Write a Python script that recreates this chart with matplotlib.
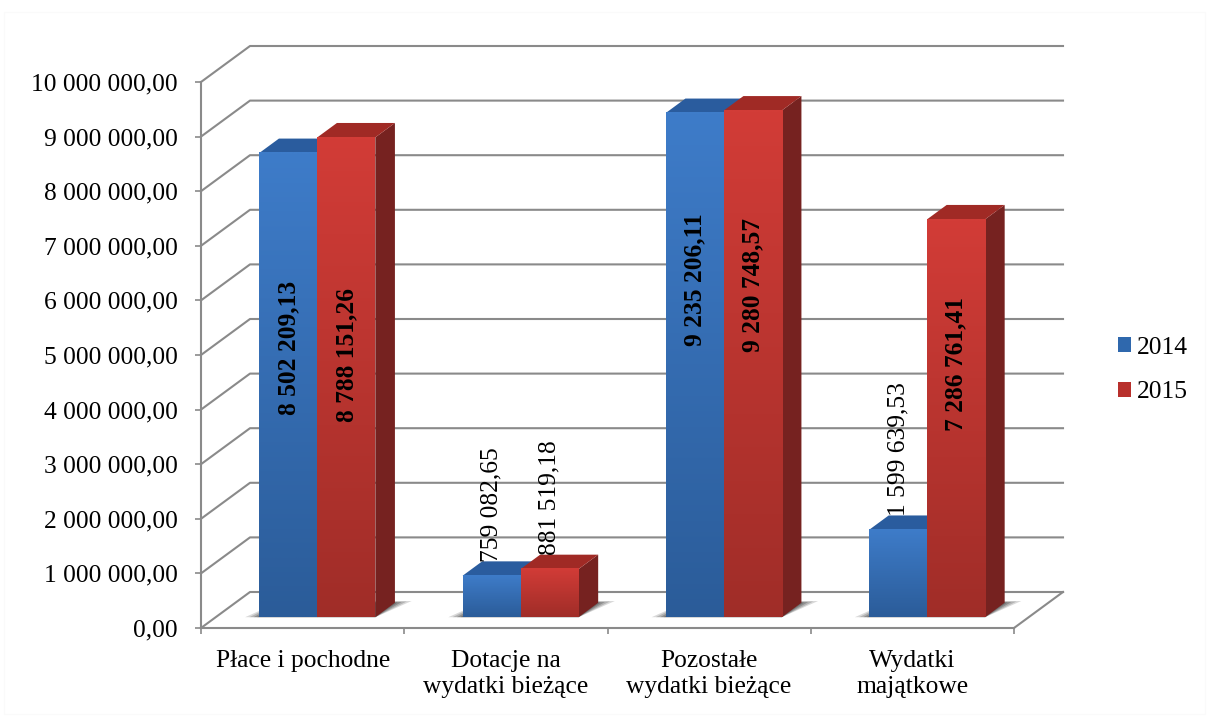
import numpy as np
import matplotlib
matplotlib.use("Agg")
import matplotlib.pyplot as plt
from matplotlib.patches import Polygon, Patch, Rectangle

plt.rcParams["font.family"] = ["Liberation Serif", "DejaVu Serif"]

# Data
categories = ["Płace i pochodne", "Dotacje na\nwydatki bieżące",
              "Pozostałe\nwydatki bieżące", "Wydatki\nmajątkowe"]
years = ["2014", "2015"]
values_2014 = [8502209.13, 759082.65, 9235206.11, 1599639.53]
values_2015 = [8788151.26, 881519.18, 9280748.57, 7286761.41]
labels_2014 = ["8 502 209,13", "759 082,65", "9 235 206,11", "1 599 639,53"]
labels_2015 = ["8 788 151,26", "881 519,18", "9 280 748,57", "7 286 761,41"]
y_ticks = list(range(0, 11000000, 1000000))
y_labels = ["0,00", "1 000 000,00", "2 000 000,00", "3 000 000,00", "4 000 000,00",
            "5 000 000,00", "6 000 000,00", "7 000 000,00", "8 000 000,00",
            "9 000 000,00", "10 000 000,00"]

# where the labels sit inside the tall bars (share of bar height), None = above the bar
inside_2014 = [0.58, None, 0.67, None]
inside_2015 = [0.546, None, 0.655, 0.636]

W, H = 1209, 718
GRID = "#8a8a8a"
FS = 18.4

# fake 3D: the depth of the chart floor in data units
DX = 49 / 203.25
DY = 36 / 54.6 * 1e6
BAR_W = 58 / 203.25
BAR_FRONT = 0.30
BAR_BACK = 0.70

fig = plt.figure(figsize=(W / 100, H / 100), dpi=100)
fig.add_artist(Rectangle((4 / W, 4 / H), 1201 / W, 702 / H, transform=fig.transFigure,
                         fill=False, ec="#fafafa", lw=1))
ax = fig.add_axes([201 / W, 1 - 628 / H, 813 / W, 546 / H])
ax.patch.set_visible(False)


def shift(x, y, d):
    return x + d * DX, y + d * DY


def gradient(x0, x1, y0, y1, top, bottom, z):
    c0 = np.array(matplotlib.colors.to_rgb(top))
    c1 = np.array(matplotlib.colors.to_rgb(bottom))
    t = np.linspace(0, 1, 128)[:, None, None]
    img = c0 * (1 - t) + c1 * t
    ax.imshow(img, extent=(x0, x1, y0, y1), aspect="auto", zorder=z, interpolation="bilinear")


# walls
for v in y_ticks:
    x1, y1 = shift(0, v, 1)
    ax.plot([0, x1, shift(4, v, 1)[0]], [v, y1, y1], color=GRID, lw=1.5, zorder=1, clip_on=False)
x1, y1 = shift(4, 0, 1)
ax.plot([4, x1], [0, y1], color=GRID, lw=1.5, zorder=1, clip_on=False)

# soft shadows on the floor
for i in range(len(categories)):
    left, right = i + 0.5 - BAR_W, i + 0.5 + BAR_W
    for grow, a in zip([1.0, 0.7, 0.4, 0.15], [0.18, 0.22, 0.28, 0.32]):
        g = grow * 0.07
        pts = [shift(left - g, 0, BAR_FRONT), shift(right, 0, BAR_FRONT),
               shift(right + g, 0, BAR_BACK + 0.05 * grow), shift(left, 0, BAR_BACK + 0.05 * grow)]
        ax.add_patch(Polygon(pts, closed=True, fc="#303030", ec="none", alpha=a, zorder=2, clip_on=False))

# bars, blue first so the red front covers its side
series = [
    (values_2014, -1, "#3e7cc9", "#2b5c99", "#2a5c9e", "#1f4677", 3),
    (values_2015, 0, "#d23c37", "#a02d28", "#a02a25", "#762220", 5),
]
for vals, off, top, bottom, top_face, side_dark, z in series:
    for i, v in enumerate(vals):
        x0 = i + 0.5 + off * BAR_W
        x1 = x0 + BAR_W
        fx0, fy0 = shift(x0, 0, BAR_FRONT)
        fx1, fy1 = shift(x1, v, BAR_FRONT)
        bx0, by0 = shift(x0, 0, BAR_BACK)
        bx1, by1 = shift(x1, v, BAR_BACK)
        ax.add_patch(Polygon([(fx1, fy0), (bx1, by0), (bx1, by1), (fx1, fy1)], closed=True,
                             fc=side_dark, ec="none", zorder=z, clip_on=False))
        ax.add_patch(Polygon([(fx0, fy1), (fx1, fy1), (bx1, by1), (bx0, by1)], closed=True,
                             fc=top_face, ec="none", zorder=z, clip_on=False))
        gradient(fx0, fx1, fy0, fy1, top, bottom, z + 0.5)

# value labels
for vals, labels, inside, off in [(values_2014, labels_2014, inside_2014, -0.5),
                                  (values_2015, labels_2015, inside_2015, 0.5)]:
    for i, v in enumerate(vals):
        x, y = shift(i + 0.5 + off * BAR_W, v, BAR_FRONT)
        if inside[i] is None:
            ax.text(x, y + 14 / 54.6 * 1e6, labels[i], rotation=90, ha="center", va="bottom",
                    fontsize=FS, color="black", zorder=10, clip_on=False)
        else:
            y = shift(0, v * inside[i], BAR_FRONT)[1]
            ax.text(x, y, labels[i], rotation=90, ha="center", va="center", fontsize=FS,
                    fontweight="bold", color="black", zorder=10, clip_on=False)

ax.set_xlim(0, 4)
ax.set_ylim(0, 10000000)

# axes
for s in ["top", "right"]:
    ax.spines[s].set_visible(False)
for s in ["left", "bottom"]:
    ax.spines[s].set_color(GRID)
    ax.spines[s].set_linewidth(1.5)
    ax.spines[s].set_zorder(1.5)
ax.set_yticks(y_ticks)
ax.set_yticklabels(y_labels, fontsize=FS)
plt.setp(ax.get_yticklabels(), va="center_baseline")
ax.tick_params(axis="y", length=4.5, width=1.2, color=GRID, pad=12)
ax.set_xticks(np.arange(len(categories)) + 0.5)
ax.set_xticklabels(categories, fontsize=FS, linespacing=1.2)
ax.set_xticks(np.arange(len(categories) + 1), minor=True)
ax.tick_params(axis="x", which="major", length=0, pad=16)
ax.tick_params(axis="x", which="minor", length=4.5, width=1.2, color=GRID)

# legend
handles = [Patch(fc="#2f68ad", ec="none"), Patch(fc="#b8302c", ec="none")]
ax.legend(handles, years, loc="center left", bbox_to_anchor=(1110 / W, 1 - 370 / H),
          bbox_transform=fig.transFigure, frameon=False, fontsize=FS, handlelength=0.52,
          handleheight=0.52, handletextpad=0.25, labelspacing=0.88, borderpad=0.3, borderaxespad=0)

fig.savefig("out.png", dpi=100)
